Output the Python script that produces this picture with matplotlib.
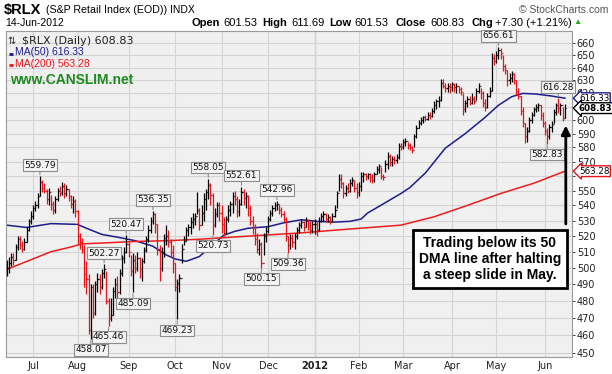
import numpy as np
import matplotlib
matplotlib.use('Agg')
import matplotlib.pyplot as plt
from matplotlib.ticker import FixedLocator, NullLocator

# $RLX daily bars, 15-Jun-2011 .. 14-Jun-2012 (open = previous close)
closes = [
    500, 503, 507, 505, 513, 518, 514, 512, 516, 524, 530, 533,  # Jun
    538, 540, 546, 556, 552, 550, 544, 549, 541, 537, 544, 550, 548, 553, 548, 551, 546, 541, 543, 536,  # Jul
    520, 516, 512, 496, 493, 463, 488, 473, 490, 493, 488, 497, 499, 480, 470, 472, 486, 490, 485, 497, 506, 510, 515,  # Aug
    510, 498, 505, 500, 506, 499, 504, 511, 518, 524, 530, 534, 528, 512, 500, 510, 519, 520, 516, 510, 503,  # Sep
    488, 491, 494, 512, 517, 524, 526, 529, 531, 533, 537, 527, 535, 544, 549, 554, 547, 527, 534, 540, 535,  # Oct
    528, 522, 531, 537, 541, 546, 544, 536, 541, 549, 545, 546, 538, 530, 526, 518, 512, 515, 503, 520, 523,  # Nov
    531, 535, 538, 540, 541, 537, 534, 531, 520, 514, 519, 516, 520, 524, 527, 529, 526, 530, 527, 524, 528,  # Dec
    528, 524, 530, 533, 534, 531, 532, 530, 533, 537, 548, 558, 555, 548, 552, 550, 555, 557, 552, 549,  # Jan
    553, 560, 561, 560, 561, 559, 557, 561, 565, 567, 560, 559, 568, 574, 570, 572, 571, 573, 581, 580,  # Feb
    584, 585, 582, 580, 578, 588, 594, 598, 600, 602, 601, 604, 603, 607, 611, 614, 615, 628, 626, 624, 626, 625,  # Mar
    627, 625, 626, 623, 621, 608, 613, 616, 613, 616, 614, 622, 626, 620, 613, 610, 618, 622, 648, 645,  # Apr
    650, 654, 652, 641, 638, 630, 632, 635, 630, 622, 618, 607, 598, 588, 592, 600, 604, 608, 610, 611, 604, 598,  # May
    592, 588, 595, 597, 606, 611, 609, 611, 601.53, 608.83,  # Jun
]
highs = [
    505, 507, 509, 509, 515, 520, 520, 517, 519, 526, 531, 536,
    540, 543, 548, 559.79, 557, 555, 551, 552, 547, 543, 546, 552, 553, 556, 555, 554, 551, 547, 546, 544,
    537, 522, 519, 514, 504, 496, 490, 490, 492, 497, 496, 499, 502.27, 498, 482, 482, 488, 494, 495, 499, 508, 513, 520.47,
    516, 508, 509, 508, 510, 507, 506, 513, 520, 527, 532, 536.35, 535, 528, 514, 513, 521, 527, 524, 518, 514,
    503, 493, 496, 515, 520, 526, 528, 532, 535, 535, 549, 538, 540, 548, 551, 558.05, 555, 548, 538, 542, 542,
    540, 532, 533, 540, 543, 549, 550, 546, 544, 552.61, 551, 549, 547, 540, 533, 528, 522, 518, 516, 522, 526,
    533, 537, 540, 542, 542.96, 541, 539, 536, 532, 520, 521, 521, 522, 526, 529, 531, 530, 532, 531, 530, 530,
    531, 530, 532, 535, 536, 535, 534, 533, 535, 540, 550, 561, 561, 556, 554, 555, 558, 559, 557, 555,
    556, 563, 563, 562, 562, 562, 561, 563, 567, 568, 566, 561, 571, 577, 575, 574, 574, 575, 583, 583,
    586, 587, 584, 583, 581, 590, 596, 600, 602, 603, 604, 606, 606, 609, 614, 616, 618, 631, 631, 628, 628, 628,
    629, 628, 628, 626, 625, 620, 615, 618, 618, 620, 618, 624, 628, 624, 622, 616, 620, 625, 652, 651,
    653, 656.61, 656, 650, 643, 638, 636, 637, 636, 630, 624, 618, 610, 598, 595, 602, 606, 610, 612, 613, 611, 606,
    599, 594, 597, 599, 608, 613, 616.28, 613, 610, 611.69,
]
lows = [
    495, 497, 501, 502, 505, 511, 512, 510, 511, 516, 523, 528,
    531, 536, 538, 546, 549, 548, 541, 540, 537, 534, 535, 543, 546, 547, 545, 546, 543, 538, 535, 532,
    515, 512, 509, 488, 484, 461, 458.07, 470, 472, 485, 484, 487, 494, 478, 465.46, 468, 472, 482, 482, 484, 495, 503, 509,
    507, 495, 485.09, 497, 498, 494, 492, 503, 510, 516, 522, 528, 522, 508, 492, 498, 507, 514, 513, 507, 497,
    486, 469.23, 485, 503, 514, 517, 520, 521, 525, 527, 534, 524, 527, 530, 537, 544, 540, 520.73, 526, 532, 530,
    522, 520, 522, 529, 533, 535, 540, 532, 533, 540, 540, 538, 533, 527, 521, 514, 509, 508, 500.15, 508, 516,
    522, 530, 533, 536, 537, 534, 532, 529, 517, 509.36, 512, 513, 512, 518, 522, 525, 523, 526, 524, 521, 522,
    521, 520, 523, 529, 530, 529, 529, 528, 529, 532, 538, 550, 552, 545, 546, 548, 549, 553, 549, 545,
    546, 550, 556, 557, 558, 556, 555, 556, 561, 562, 558, 557, 563, 565, 567, 567, 568, 569, 572, 578,
    579, 581, 579, 578, 576, 580, 587, 594, 596, 598, 599, 600, 601, 602, 605, 608, 610, 614, 624, 621, 621, 620,
    622, 621, 620, 620, 619, 604, 606, 610, 611, 612, 612, 615, 620, 616, 610, 607, 609, 617, 622, 642,
    644, 647, 647, 637, 635, 626, 627, 629, 627, 619, 616, 604, 595, 583, 584, 591, 598, 603, 606, 607, 600, 595,
    589, 582.83, 586, 591, 598, 604, 605, 604, 599, 601.53,
]

month_lengths = [12, 20, 23, 21, 21, 21, 21, 20, 20, 22, 20, 22, 10]
month_labels = ['Jul', 'Aug', 'Sep', 'Oct', 'Nov', 'Dec', '2012', 'Feb', 'Mar', 'Apr', 'May', 'Jun']

ma50_idx = [0, 9, 20, 32, 36, 43, 51, 58, 66, 72, 76, 81, 87, 91, 98, 103, 109, 118, 125, 133,
            140, 148, 155, 160, 163, 170, 178, 182, 189, 198, 207, 216, 222, 228, 233, 239, 246, 252]
ma50_val = [527, 525.5, 528, 527.5, 525, 521, 519, 517, 513.5, 508, 505.5, 504, 507, 512, 520.5, 523, 525, 526, 528.5, 530.5,
            529.5, 529, 529.5, 531, 535, 541, 548, 552, 562, 579.5, 590, 602, 611, 617.5, 620, 619.5, 618, 616.33]
ma200_idx = [0, 11, 20, 29, 34, 43, 58, 73, 88, 110, 133, 155, 178, 193, 208, 223, 238, 252]
ma200_val = [499, 505, 510, 513, 515, 515.5, 516.5, 517, 518, 520, 522, 524.5, 527, 532.5, 540, 548, 555, 563.28]

high_marks = [15, 44, 54, 66, 91, 106, 122, 222, 249]
low_marks = [38, 46, 57, 77, 93, 115, 127, 244]

W, H = 612, 374
fig = plt.figure(figsize=(W / 100, H / 100), dpi=100)
fig.patch.set_facecolor('white')

def px(x, y):
    return x / W, 1 - y / H

ax = fig.add_axes([6 / W, (H - 357) / H, 566 / W, 326 / H])
ax.set_facecolor('#f0f0f0')

n = len(closes)
xs = np.arange(n)
opens = [closes[0]] + closes[:-1]
red = '#e8121a'
cols = ['black' if i == 0 or closes[i] >= closes[i - 1] else red for i in range(n)]
ax.vlines(xs, lows, highs, colors=cols, lw=0.9, zorder=3)
ax.hlines(opens, xs - 0.5, xs, colors=cols, lw=0.9, zorder=3)
ax.hlines(closes, xs, xs + 0.5, colors=cols, lw=0.9, zorder=3)

navy = '#1c1c8e'
ax.plot(ma50_idx, ma50_val, color=navy, lw=1.1, zorder=2)
ax.plot(ma200_idx, ma200_val, color='#ee1c1c', lw=1.1, zorder=2)

ax.set_yscale('log')
ax.set_ylim(447.9, 669.6)
ax.set_xlim(-0.3, 255.2)
yt = list(range(450, 661, 10))
ax.yaxis.set_major_locator(FixedLocator(yt))
ax.yaxis.set_minor_locator(NullLocator())
# 560 and 610 sit under the value tags, as in the original
ax.set_yticklabels(['' if v in (560, 610) else str(v) for v in yt])
ax.yaxis.tick_right()
ax.tick_params(axis='y', labelsize=7, length=2, width=0.6, pad=1.5, colors='#222222')

starts = np.cumsum(month_lengths)[:-1]
ax.xaxis.set_major_locator(FixedLocator(starts))
ax.xaxis.set_minor_locator(NullLocator())
ax.set_xticklabels(month_labels)
ax.tick_params(axis='x', labelsize=7, length=0, pad=3, colors='#222222')
for lab in ax.get_xticklabels():
    if lab.get_text() == '2012':
        lab.set_fontweight('bold')
ax.grid(True, color='#d4d4d4', lw=0.8, zorder=0)
ax.axvline(starts[6], color='#a8a8a8', lw=0.9, zorder=1)
for s in ax.spines.values():
    s.set_color('#9a9a9a')
    s.set_linewidth(0.8)

# high / low labels
box = dict(boxstyle='square,pad=0.15', fc='#f4f4f4', ec='#8c8c8c', lw=0.8)
for i in high_marks:
    ax.annotate(f'{highs[i]:.2f}', xy=(i, highs[i]), xytext=(0, 8), textcoords='offset points',
                ha='center', va='center', fontsize=6.5, color='#111111', bbox=box, zorder=5,
                arrowprops=dict(arrowstyle='-', color='#8c8c8c', lw=0.8, shrinkA=0, shrinkB=1))
for i in low_marks:
    ax.annotate(f'{lows[i]:.2f}', xy=(i, lows[i]), xytext=(0, -8), textcoords='offset points',
                ha='center', va='center', fontsize=6.5, color='#111111', bbox=box, zorder=5,
                arrowprops=dict(arrowstyle='-', color='#8c8c8c', lw=0.8, shrinkA=0, shrinkB=1))

# right side value tags
def tag(val, color, bold=False):
    ax.annotate(f'{val:.2f}', xy=(1.0, val), xycoords=('axes fraction', 'data'),
                xytext=(5, 0), textcoords='offset points', ha='left', va='center',
                fontsize=6.3, fontweight='bold' if bold else 'normal', color='black',
                bbox=dict(boxstyle='larrow,pad=0.1', fc='white', ec=color, lw=1.0),
                annotation_clip=False, zorder=6)

tag(ma50_val[-1], navy)
tag(closes[-1], 'black', bold=True)
tag(ma200_val[-1], red)

# note with arrow
ax.annotate('', xy=(n - 0.6, 598), xytext=(n - 0.6, 526),
            arrowprops=dict(arrowstyle='-|>', color='black', lw=2, mutation_scale=13), zorder=6)
ax.text(0.855, 0.30, 'Trading below its 50\nDMA line after halting\na steep slide in May.',
        transform=ax.transAxes, ha='center', va='center', fontsize=10, fontweight='bold',
        family='Liberation Sans', linespacing=1.2, zorder=7,
        bbox=dict(boxstyle='square,pad=0.42', fc='white', ec='black', lw=2))

# in-plot legend
ax.text(0.028, 0.985, f'$RLX (Daily) {closes[-1]:.2f}', transform=ax.transAxes, ha='left', va='top',
        fontsize=8, color='#222222')
ax.text(0.003, 0.985, '\u21c5', transform=ax.transAxes, ha='left', va='top', fontsize=7, color='#333333')
ax.plot([0.005, 0.013], [0.93, 0.93], transform=ax.transAxes, color=navy, lw=2, solid_capstyle='butt')
ax.text(0.016, 0.95, f'MA(50) {ma50_val[-1]:.2f}', transform=ax.transAxes, ha='left', va='top',
        fontsize=7.5, color=navy, family='Liberation Sans')
ax.plot([0.005, 0.013], [0.895, 0.895], transform=ax.transAxes, color=red, lw=2, solid_capstyle='butt')
ax.text(0.016, 0.915, f'MA(200) {ma200_val[-1]:.2f}', transform=ax.transAxes, ha='left', va='top',
        fontsize=7.5, color=red, family='Liberation Sans')
ax.text(0.007, 0.87, 'www.CANSLIM.net', transform=ax.transAxes, ha='left', va='top',
        fontsize=10, fontweight='bold', color='#1f8a1f', family='Liberation Sans')

# header
hdr = dict(family='Liberation Sans', va='center')
fig.text(*px(4, 10), '$RLX', fontsize=10.5, fontweight='bold', **hdr)
fig.text(*px(46, 10), '(S&P Retail Index (EOD))', fontsize=7.7, **hdr)
fig.text(*px(170, 10), 'INDX', fontsize=7.5, **hdr)
fig.text(*px(608, 10), '\u00a9 StockCharts.com', fontsize=7.5, color='#555555', ha='right',
         family='Liberation Sans', va='center')
fig.text(*px(5, 23), '14-Jun-2012', fontsize=7.5, **hdr)
parts = [(191, 'Open', True), (223, '601.53', False), (262, 'High', True), (291, '611.69', False),
         (329, 'Low', True), (354, '601.53', False), (396, 'Close', True), (430, '608.83', False),
         (471, 'Chg', True), (495, '+7.30 (+1.21%)', False)]
for xp, t, b in parts:
    fig.text(*px(xp, 23), t, fontsize=8, fontweight='bold' if b else 'normal', **hdr)
fig.text(*px(573, 23), '\u25b2', fontsize=6, color='#22aa22', **hdr)

fig.savefig('out.png', dpi=100)
